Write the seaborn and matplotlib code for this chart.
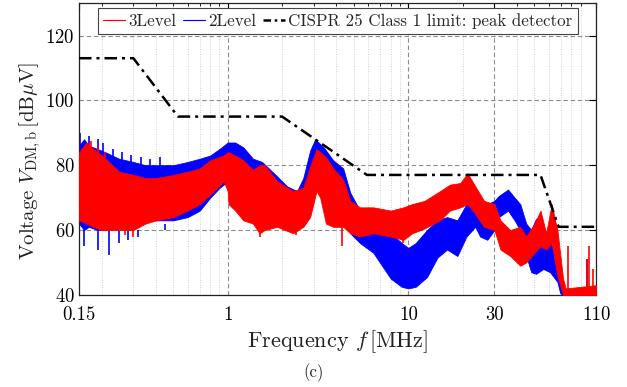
import numpy as np
import pandas as pd
import matplotlib
matplotlib.use("Agg")
import matplotlib.pyplot as plt
from matplotlib.lines import Line2D
from matplotlib.ticker import FixedLocator, LogLocator, NullFormatter
import seaborn as sns

# ---- measured spectra (envelopes of the dense peak-detector sweep) ----
f_2level = [0.15, 0.16, 0.17, 0.19, 0.21, 0.25, 0.30, 0.35, 0.40, 0.50, 0.60, 0.70,
            0.80, 0.90, 1.00, 1.10, 1.22, 1.38, 1.55, 1.88, 2.13, 2.42, 2.62, 2.86,
            3.05, 3.40, 3.84, 4.36, 4.77, 5.40, 6.40, 8.00, 9.20, 10.0, 11.0, 12.7,
            14.5, 16.4, 18.7, 21.0, 23.5, 25.0, 27.4, 30.0, 31.7, 35.7, 38.8, 41.7,
            45.0, 48.0, 51.0, 56.0, 61.0, 67.0, 69.5, 72.0, 110.0]
hi_2level = [86, 88, 86, 85, 84, 82, 81, 80, 80, 80, 81, 82,
             83, 85, 87, 87, 85.5, 82, 81, 76.5, 73.5, 72, 76, 84.5,
             88, 85.5, 81.5, 79, 71.5, 66, 63, 59, 56, 54.5, 56, 60,
             63, 64, 63, 68, 70, 69, 68, 69, 70.5, 72.5, 70, 68,
             62, 60, 63.5, 61, 57, 49, 44, 41, 41]
lo_2level = [62, 60, 61, 60, 60, 61, 62, 63, 63, 63, 64, 66,
             70, 73, 75, 74, 70, 66, 64, 64, 64, 64, 66, 72,
             76, 70, 66, 63, 59, 56, 53, 45, 42.5, 42, 42.5, 45.5,
             51.5, 54, 52, 58, 61, 58, 57, 60, 64, 66, 63, 60,
             52, 47, 46.5, 48, 47, 44, 40.5, 40, 40]

f_3level = [0.15, 0.165, 0.18, 0.20, 0.22, 0.25, 0.30, 0.35, 0.40, 0.50, 0.60, 0.70,
            0.80, 0.95, 1.00, 1.01, 1.10, 1.22, 1.38, 1.50, 1.60, 1.88, 2.30, 2.62,
            2.86, 3.10, 3.25, 3.50, 3.84, 4.36, 4.77, 5.40, 6.40, 8.00, 9.40, 10.5,
            12.3, 15.0, 17.0, 19.4, 21.3, 23.5, 26.3, 30.0, 32.4, 36.7, 41.7, 45.0,
            50.0, 54.0, 58.0, 62.3, 65.0, 67.0, 72.0, 74.5, 110.0]
hi_3level = [84, 87, 85, 83, 81, 78, 77, 76, 76, 77, 78, 79,
             81.5, 83, 84, 84, 83, 81.5, 78.5, 80, 80, 75, 72, 73,
             79.5, 85, 84, 82.5, 79, 75.5, 69, 67, 67, 66, 67, 68,
             69, 72, 74, 74.5, 77.5, 73.5, 69, 68, 63, 60, 61, 58,
             62, 66, 59, 68, 63, 60, 45, 42, 43]
lo_3level = [63, 62, 61, 60, 60, 60, 60, 62, 63, 64, 66, 68,
             71, 75, 72, 68, 66, 63, 62, 59, 60, 61, 59, 61,
             64, 72, 70, 62, 61, 61, 59, 58, 59, 58, 57, 59,
             60.5, 63, 66, 67, 68, 65, 61, 60, 54, 52, 49, 50,
             53, 55, 54, 56, 50, 46, 40, 40, 40]

# individual harmonic spikes that stick out of the envelopes
spk_2level_f = [0.152, 0.158, 0.17, 0.19, 0.205, 0.23, 0.26, 0.29, 0.33, 0.37, 0.42,
                0.16, 0.19, 0.22, 0.25, 0.28, 0.32, 0.45, 98.0]
spk_2level_lo = [80, 80, 80, 80, 80, 78, 78, 78, 78, 78, 78,
                 60, 60, 60, 60, 60, 60, 62, 40]
spk_2level_hi = [90, 87, 89, 88, 87, 85, 84, 83, 82.5, 82, 82.5,
                 55, 54, 52.3, 56, 57, 58, 60, 51]

spk_3level_f = [0.155, 0.175, 0.19, 0.21, 0.27, 0.30, 1.50, 2.40, 4.30, 9.40,
                77.0, 98.0, 100.0, 105.0]
spk_3level_lo = [80, 80, 80, 78, 62, 62, 62, 62, 62, 60, 40, 40, 40, 40]
spk_3level_hi = [85, 87.5, 86, 84, 58.5, 58, 58, 58.5, 55, 56, 55, 51, 55, 48]

# ---- CISPR 25 Class 1 limit, peak detector ----
f_limit = [0.15, 0.30, 0.53, 2.0, 5.9, 54.0, 68.0, 110.0]
v_limit = [113, 113, 95, 95, 77, 77, 61, 61]

x_ticks = [0.15, 1, 10, 30, 110]
x_tick_labels = ["0.15", "1", "10", "30", "110"]
y_ticks = [40, 60, 80, 100, 120]

sns.set_theme(style="white")
plt.rcParams.update({
    "font.family": ["cmr10", "DejaVu Serif"],
    "mathtext.fontset": "cm",
    "axes.formatter.use_mathtext": True,
    "axes.unicode_minus": False,
})

fig = plt.figure(figsize=(6.27, 3.87), dpi=100)
ax = fig.add_axes([0.126, 0.238, 0.825, 0.754])

RED = "#ff0000"
BLUE = "#0000ff"

# 2Level drawn first, 3Level on top
ax.fill_between(f_2level, lo_2level, hi_2level, color=BLUE, lw=0.6, edgecolor=BLUE, zorder=2)
ax.vlines(spk_2level_f, spk_2level_lo, spk_2level_hi, color=BLUE, lw=1.2, zorder=2)
ax.fill_between(f_3level, lo_3level, hi_3level, color=RED, lw=0.6, edgecolor=RED, zorder=3)
ax.vlines(spk_3level_f, spk_3level_lo, spk_3level_hi, color=RED, lw=1.2, zorder=3)

limit_df = pd.DataFrame({"f": f_limit, "v": v_limit})
sns.lineplot(data=limit_df, x="f", y="v", ax=ax, color="black", lw=1.8,
             linestyle=(0, (5, 2, 1.2, 2)), sort=False, zorder=4)

ax.set_xscale("log")
ax.set_xlim(0.15, 110)
ax.set_ylim(40, 130)

ax.xaxis.set_major_locator(FixedLocator(x_ticks))
ax.set_xticklabels(x_tick_labels)
ax.xaxis.set_minor_locator(LogLocator(base=10, subs=np.arange(2, 10)))
ax.xaxis.set_minor_formatter(NullFormatter())
ax.set_yticks(y_ticks)

ax.grid(which="major", axis="both", color="#8c8c8c", ls=(0, (4, 2.5)), lw=0.8)
ax.grid(which="minor", axis="x", color="#d0d0d0", ls=(0, (1, 1.5)), lw=0.7)
ax.set_axisbelow(True)

ax.tick_params(which="both", direction="in", top=True, right=True, colors="black",
               labelsize=13.5)
ax.tick_params(axis="x", which="major", pad=8)
ax.tick_params(axis="y", which="major", pad=3)
ax.tick_params(which="major", length=5, width=0.8)
ax.tick_params(which="minor", length=2.5, width=0.6)
for s in ax.spines.values():
    s.set_color("#222222")
    s.set_linewidth(0.9)

ax.set_xlabel(r"Frequency $f\,[\mathrm{MHz}]$", fontsize=16, color="#222222")
ax.set_ylabel(r"Voltage $V_{\mathrm{DM,b}}\,[\mathrm{dB}\mu\mathrm{V}]$", fontsize=15,
              color="#222222")
ax.xaxis.set_label_coords(0.5, -0.115)
ax.yaxis.set_label_coords(-0.07, 0.46)

# legend keys: thin solid strokes for the two spectra, dash-dot for the limit
key_3level = Line2D([], [], color=RED, lw=0.85, linestyle="-", marker="")
key_2level = Line2D([], [], color=BLUE, lw=0.85, linestyle="-", marker="")
key_limit = Line2D([], [], color="black", lw=1.8, linestyle=(0, (3, 1.5, 1, 1.5)))
labels = ["3Level", "2Level", "CISPR 25 Class 1 limit: peak detector"]
leg = ax.legend([key_3level, key_2level, key_limit], labels, loc="upper center",
                bbox_to_anchor=(0.5, 1.0), ncol=3, fontsize=12.2, frameon=True,
                fancybox=False, framealpha=1, edgecolor="#444444", handlelength=1.3,
                handletextpad=0.2, columnspacing=0.4,
                borderpad=0.3, borderaxespad=0.3)
leg.get_frame().set_linewidth(0.8)

fig.text(0.5, 0.038, "(c)", ha="center", va="center", fontsize=12)

fig.savefig("out.png", dpi=100)
